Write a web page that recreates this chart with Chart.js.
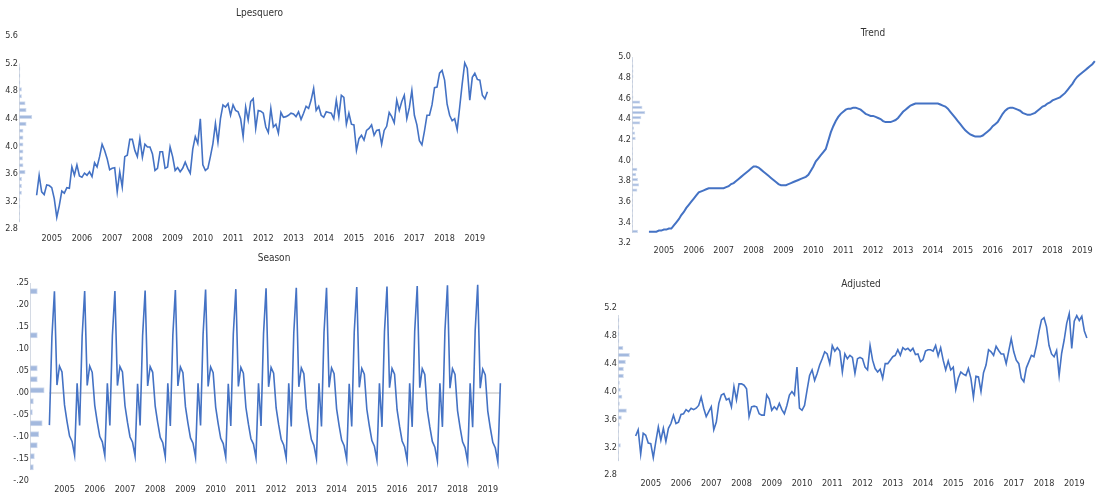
<!DOCTYPE html>
<html>
<head>
<meta charset="utf-8">
<script src="https://cdn.jsdelivr.net/npm/chart.js@4.4.1/dist/chart.umd.min.js"></script>
<style>
    html, body { margin: 0; padding: 0; background: #fff; }
    body { width: 1096px; height: 495px; position: relative; overflow: hidden; }
    .panel { position: absolute; }
</style>
</head>
<body>
<div class="panel" style="left:0px;top:0px;width:520px;height:248px"><canvas id="cLpesquero"></canvas></div>
<div class="panel" style="left:600px;top:20px;width:520px;height:240px"><canvas id="cTrend"></canvas></div>
<div class="panel" style="left:0px;top:250px;width:530px;height:245px"><canvas id="cSeason"></canvas></div>
<div class="panel" style="left:600px;top:265px;width:520px;height:230px"><canvas id="cAdjusted"></canvas></div>
<script>
// Monthly sample 2004M07 - 2019M06
const startYear = 2004;
const startMonth = 7;
const nMonths = 180;
const months = [];
for (let i = 0; i < nMonths; i++) {
    const mm = startMonth - 1 + i;
    months.push((startYear + Math.floor(mm / 12)) + "M" + String(mm % 12 + 1).padStart(2, "0"));
}
const yearLabels = ["2005", "2006", "2007", "2008", "2009", "2010", "2011", "2012",
                    "2013", "2014", "2015", "2016", "2017", "2018", "2019"];

// Series
const lpesquero = [
    3.29, 3.58, 3.34, 3.30, 3.44, 3.43, 3.40, 3.24, 2.97, 3.14,
    3.35, 3.32, 3.40, 3.39, 3.70, 3.58, 3.73, 3.57, 3.55, 3.61,
    3.58, 3.63, 3.56, 3.76, 3.70, 3.85, 4.03, 3.94, 3.82, 3.66,
    3.68, 3.69, 3.34, 3.63, 3.41, 3.85, 3.87, 4.10, 4.10, 3.94,
    3.85, 4.11, 3.84, 4.03, 3.99, 3.99, 3.89, 3.65, 3.68, 3.92,
    3.92, 3.68, 3.70, 3.99, 3.85, 3.65, 3.69, 3.63, 3.68, 3.77,
    3.68, 3.61, 3.96, 4.14, 4.04, 4.40, 3.73, 3.65, 3.68, 3.85,
    4.04, 4.33, 4.06, 4.40, 4.60, 4.57, 4.62, 4.45, 4.60, 4.52,
    4.50, 4.40, 4.14, 4.57, 4.38, 4.65, 4.69, 4.26, 4.52, 4.51,
    4.48, 4.28, 4.20, 4.55, 4.28, 4.32, 4.19, 4.49, 4.42, 4.43,
    4.45, 4.48, 4.47, 4.43, 4.50, 4.39, 4.48, 4.58, 4.55, 4.67,
    4.84, 4.52, 4.58, 4.45, 4.42, 4.50, 4.49, 4.48, 4.40, 4.67,
    4.43, 4.74, 4.71, 4.32, 4.48, 4.32, 4.31, 3.94, 4.11, 4.16,
    4.09, 4.23, 4.26, 4.31, 4.16, 4.23, 4.24, 4.03, 4.23, 4.29,
    4.49, 4.43, 4.34, 4.67, 4.52, 4.65, 4.74, 4.40, 4.56, 4.81,
    4.45, 4.31, 4.08, 4.02, 4.22, 4.45, 4.45, 4.60, 4.85, 4.86,
    5.06, 5.10, 4.96, 4.61, 4.45, 4.37, 4.40, 4.24, 4.57, 4.91,
    5.21, 5.13, 4.67, 5.00, 5.06, 4.97, 4.96, 4.74, 4.69, 4.79
];

const trend = [
    3.31, 3.31, 3.31, 3.31, 3.32, 3.32, 3.33, 3.33, 3.34, 3.34,
    3.37, 3.40, 3.43, 3.47, 3.50, 3.54, 3.57, 3.60, 3.63, 3.66,
    3.69, 3.70, 3.71, 3.72, 3.73, 3.73, 3.73, 3.73, 3.73, 3.73,
    3.73, 3.74, 3.75, 3.77, 3.78, 3.80, 3.82, 3.84, 3.86, 3.88,
    3.90, 3.92, 3.94, 3.94, 3.93, 3.91, 3.89, 3.87, 3.85, 3.83,
    3.81, 3.79, 3.77, 3.76, 3.76, 3.76, 3.77, 3.78, 3.79, 3.80,
    3.81, 3.82, 3.83, 3.84, 3.86, 3.90, 3.94, 3.99, 4.02, 4.05,
    4.08, 4.11, 4.19, 4.27, 4.33, 4.38, 4.42, 4.45, 4.47, 4.49,
    4.50, 4.50, 4.51, 4.51, 4.50, 4.49, 4.47, 4.45, 4.44, 4.43,
    4.43, 4.42, 4.41, 4.40, 4.38, 4.37, 4.37, 4.37, 4.38, 4.39,
    4.41, 4.44, 4.47, 4.49, 4.51, 4.53, 4.54, 4.55, 4.55, 4.55,
    4.55, 4.55, 4.55, 4.55, 4.55, 4.55, 4.55, 4.54, 4.53, 4.52,
    4.50, 4.47, 4.44, 4.41, 4.38, 4.35, 4.32, 4.29, 4.27, 4.25,
    4.24, 4.23, 4.23, 4.23, 4.24, 4.26, 4.28, 4.30, 4.33, 4.35,
    4.37, 4.41, 4.45, 4.48, 4.50, 4.51, 4.51, 4.50, 4.49, 4.48,
    4.46, 4.45, 4.44, 4.44, 4.45, 4.46, 4.48, 4.50, 4.52, 4.53,
    4.55, 4.56, 4.58, 4.59, 4.60, 4.61, 4.63, 4.65, 4.68, 4.71,
    4.74, 4.78, 4.81, 4.83, 4.85, 4.87, 4.89, 4.91, 4.93, 4.96
];

const season = [
    -0.073, 0.127, 0.231, 0.018, 0.061, 0.048, -0.027, -0.065, -0.098, -0.110, -0.141, 0.022,
    -0.074, 0.129, 0.232, 0.017, 0.061, 0.047, -0.028, -0.066, -0.099, -0.111, -0.142, 0.022,
    -0.074, 0.130, 0.232, 0.017, 0.060, 0.048, -0.029, -0.067, -0.100, -0.112, -0.143, 0.021,
    -0.074, 0.131, 0.233, 0.016, 0.060, 0.047, -0.030, -0.068, -0.101, -0.113, -0.145, 0.022,
    -0.075, 0.132, 0.234, 0.016, 0.059, 0.046, -0.031, -0.069, -0.102, -0.114, -0.146, 0.022,
    -0.074, 0.133, 0.235, 0.015, 0.059, 0.046, -0.032, -0.070, -0.103, -0.115, -0.146, 0.021,
    -0.075, 0.134, 0.236, 0.015, 0.058, 0.045, -0.033, -0.071, -0.104, -0.116, -0.147, 0.022,
    -0.075, 0.135, 0.238, 0.014, 0.058, 0.045, -0.034, -0.072, -0.105, -0.118, -0.148, 0.022,
    -0.076, 0.136, 0.239, 0.014, 0.057, 0.044, -0.035, -0.073, -0.106, -0.119, -0.149, 0.022,
    -0.076, 0.137, 0.239, 0.013, 0.057, 0.044, -0.036, -0.074, -0.107, -0.120, -0.151, 0.021,
    -0.076, 0.138, 0.241, 0.013, 0.056, 0.043, -0.037, -0.075, -0.108, -0.121, -0.152, 0.022,
    -0.077, 0.139, 0.242, 0.012, 0.056, 0.043, -0.038, -0.076, -0.109, -0.122, -0.153, 0.022,
    -0.077, 0.140, 0.243, 0.012, 0.055, 0.042, -0.039, -0.077, -0.110, -0.123, -0.154, 0.022,
    -0.077, 0.141, 0.245, 0.011, 0.055, 0.042, -0.040, -0.078, -0.111, -0.124, -0.155, 0.022,
    -0.078, 0.142, 0.246, 0.011, 0.054, 0.041, -0.041, -0.079, -0.112, -0.125, -0.157, 0.022
];

const adjusted = [
    3.36, 3.45, 3.10, 3.40, 3.37, 3.26, 3.25, 3.05, 3.28, 3.49,
    3.30, 3.47, 3.28, 3.47, 3.54, 3.66, 3.54, 3.56, 3.67, 3.68,
    3.74, 3.71, 3.76, 3.74, 3.76, 3.80, 3.92, 3.76, 3.64, 3.71,
    3.78, 3.45, 3.56, 3.83, 3.95, 3.97, 3.88, 3.90, 3.78, 4.07,
    3.88, 4.11, 4.11, 4.09, 4.04, 3.64, 3.78, 3.79, 3.78, 3.68,
    3.66, 3.66, 3.95, 3.89, 3.73, 3.78, 3.74, 3.83, 3.74, 3.68,
    3.80, 3.95, 4.00, 3.95, 4.35, 3.76, 3.73, 3.80, 4.02, 4.23,
    4.31, 4.16, 4.26, 4.38, 4.47, 4.57, 4.54, 4.40, 4.66, 4.58,
    4.63, 4.58, 4.28, 4.54, 4.47, 4.52, 4.49, 4.26, 4.47, 4.49,
    4.47, 4.35, 4.31, 4.66, 4.45, 4.33, 4.28, 4.32, 4.19, 4.40,
    4.40, 4.45, 4.50, 4.52, 4.60, 4.52, 4.63, 4.60, 4.62, 4.58,
    4.62, 4.53, 4.54, 4.43, 4.46, 4.58, 4.60, 4.60, 4.58, 4.66,
    4.51, 4.63, 4.45, 4.31, 4.44, 4.31, 4.35, 4.03, 4.19, 4.28,
    4.25, 4.23, 4.33, 4.19, 3.92, 4.22, 4.21, 4.00, 4.27, 4.38,
    4.60, 4.57, 4.52, 4.65, 4.59, 4.54, 4.54, 4.40, 4.58, 4.76,
    4.57, 4.45, 4.40, 4.19, 4.14, 4.34, 4.43, 4.52, 4.50, 4.66,
    4.86, 5.03, 5.06, 4.93, 4.66, 4.54, 4.50, 4.59, 4.23, 4.55,
    4.74, 4.98, 5.12, 4.62, 5.01, 5.09, 5.02, 5.08, 4.87, 4.77
];

// Histograms on the left axis (bin centres, counts)
const lpesqueroBins = [2.95, 3.05, 3.15, 3.25, 3.35, 3.45, 3.55, 3.65, 3.75, 3.85, 3.95, 4.05,
                       4.15, 4.25, 4.35, 4.45, 4.55, 4.65, 4.75, 4.85, 4.95, 5.05, 5.15];
const lpesqueroCounts = [1, 1, 2, 2, 5, 5, 5, 12, 8, 7, 8, 8, 8, 8, 14, 25, 14, 12, 5, 5, 2, 2, 2];

const trendBins = [3.325, 3.375, 3.425, 3.475, 3.525, 3.575, 3.625, 3.675, 3.725, 3.775, 3.825, 3.875,
                   3.925, 3.975, 4.025, 4.075, 4.125, 4.175, 4.225, 4.275, 4.325, 4.375, 4.425, 4.475,
                   4.525, 4.575, 4.625, 4.675, 4.725, 4.775, 4.825, 4.875, 4.925, 4.975];
const trendCounts = [10, 1, 1, 1, 1, 1, 1, 1, 9, 12, 10, 7, 9, 1, 1, 1, 1, 0, 6, 5, 3, 14, 16, 23,
                     18, 14, 2, 1, 1, 1, 2, 2, 2, 1];

const seasonBins = [-0.1625, -0.1375, -0.1125, -0.0875, -0.0625, -0.0375, -0.0125, 0.0125, 0.0375,
                    0.0625, 0.0875, 0.1125, 0.1375, 0.1625, 0.1875, 0.2125, 0.2375];
const seasonCounts = [7, 9, 15, 18, 25, 5, 7, 29, 15, 15, 0, 0, 15, 0, 0, 0, 15];

const adjustedBins = [3.05, 3.15, 3.25, 3.35, 3.45, 3.55, 3.65, 3.75, 3.85, 3.95, 4.05,
                      4.15, 4.25, 4.35, 4.45, 4.55, 4.65, 4.75, 4.85, 4.95, 5.05];
const adjustedCounts = [1, 1, 5, 1, 1, 3, 7, 17, 3, 8, 5, 3, 11, 11, 15, 23, 10, 2, 2, 2, 2];

const fontFamily = "'Liberation Sans Narrow', 'DejaVu Sans Condensed', 'Liberation Sans', Arial, sans-serif";
const textColor = "#333333";
const lineColor = "#4472c4";
const yearTicks = yearLabels.map(y => months.indexOf(y + "M01"));

function oneDecimal(v) {
    return v.toFixed(1);
}

function noLeadingZero(v) {
    if (Math.abs(v) < 1e-9) v = 0;
    return v.toFixed(2).replace(/^(-?)0\./, "$1.");
}

function createPanel(id, title, values, bins, counts, o) {
    const binWidth = bins[1] - bins[0];
    const lo = bins[0] - binWidth / 2;
    const hi = bins[bins.length - 1] + binWidth / 2;

    const datasets = [
        {
            type: "line",
            data: values.map((v, i) => ({ x: i, y: v })),
            xAxisID: "x",
            yAxisID: "y",
            borderColor: lineColor,
            borderWidth: o.lineWidth,
            pointRadius: 0,
            tension: 0,
            fill: false,
            order: 0
        },
        {
            type: "bar",
            indexAxis: "y",
            data: bins.map((b, i) => ({ x: counts[i], y: b })),
            xAxisID: "xh",
            yAxisID: "y",
            backgroundColor: "#a3b9de",
            borderColor: "#d0dbee",
            borderWidth: 1,
            borderSkipped: "start",
            barPercentage: 1,
            categoryPercentage: 1,
            order: 3
        },
        {
            type: "line",
            data: [{ x: 0, y: lo }, { x: 0, y: hi }],
            xAxisID: "xh",
            yAxisID: "y",
            borderColor: "#c6cedb",
            borderWidth: 1.5,
            pointRadius: 0,
            order: 2
        }
    ];

    if (o.zeroLine) {
        datasets.push({
            type: "line",
            data: [{ x: 0, y: 0 }, { x: values.length - 1, y: 0 }],
            xAxisID: "x",
            yAxisID: "y",
            borderColor: "#b8b8b8",
            borderWidth: 1,
            pointRadius: 0,
            order: 1
        });
    }

    new Chart(document.getElementById(id), {
        type: "line",
        data: { datasets: datasets },
        options: {
            responsive: true,
            maintainAspectRatio: false,
            animation: false,
            events: [],
            layout: { padding: o.padding },
            plugins: {
                legend: { display: false },
                tooltip: { enabled: false },
                title: {
                    display: true,
                    text: title,
                    fullSize: false,
                    color: textColor,
                    font: { family: fontFamily, size: 10, weight: "normal", lineHeight: 1.2 },
                    padding: o.titlePad
                }
            },
            scales: {
                x: {
                    type: "linear",
                    min: o.xMin,
                    max: o.xMax,
                    offset: false,
                    grid: { display: false, drawTicks: false, offset: false },
                    border: { display: false },
                    afterBuildTicks: (s) => { s.ticks = yearTicks.map(v => ({ value: v })); },
                    afterFit: (s) => { s.height = o.xAxisHeight; },
                    ticks: {
                        autoSkip: false,
                        maxRotation: 0,
                        padding: o.xTickPad,
                        color: textColor,
                        font: { family: fontFamily, size: 9 },
                        callback: (v) => yearLabels[yearTicks.indexOf(v)]
                    }
                },
                xh: {
                    type: "linear",
                    axis: "x",
                    display: false,
                    offset: false,
                    min: 0,
                    max: o.histMax
                },
                y: {
                    type: "linear",
                    min: o.yMin,
                    max: o.yMax,
                    offset: false,
                    grid: { display: false, drawTicks: false, offset: false },
                    border: { display: false },
                    afterFit: (s) => { s.width = o.yAxisWidth; },
                    ticks: {
                        stepSize: o.yStep,
                        padding: 1,
                        color: textColor,
                        font: { family: fontFamily, size: 9 },
                        callback: o.yFormat
                    }
                }
            }
        }
    });
}

createPanel("cLpesquero", "Lpesquero", lpesquero, lpesqueroBins, lpesqueroCounts, {
    yMin: 2.8, yMax: 5.6, yStep: 0.4, yFormat: oneDecimal,
    xMin: -7, xMax: 184, histMax: 934,
    yAxisWidth: 19, xAxisHeight: 15, xTickPad: 4,
    padding: { left: 0, right: 20, top: 0, bottom: 4 },
    titlePad: { top: 7, bottom: 17 },
    lineWidth: 1.6
});

createPanel("cTrend", "Trend", trend, trendBins, trendCounts, {
    yMin: 3.2, yMax: 5.0, yStep: 0.2, yFormat: oneDecimal,
    xMin: -6.8, xMax: 186.7, histMax: 856,
    yAxisWidth: 32, xAxisHeight: 15, xTickPad: 2,
    padding: { left: 0, right: 6, top: 0, bottom: 2 },
    titlePad: { top: 7, bottom: 18 },
    lineWidth: 2
});

createPanel("cSeason", "Season", season, seasonBins, seasonCounts, {
    yMin: -0.2, yMax: 0.25, yStep: 0.05, yFormat: noLeadingZero,
    xMin: -7.7, xMax: 186, histMax: 996,
    yAxisWidth: 30, xAxisHeight: 13, xTickPad: 3,
    padding: { left: 0, right: 12, top: 0, bottom: 1 },
    titlePad: { top: 2, bottom: 19 },
    lineWidth: 1.6,
    zeroLine: true
});

createPanel("cAdjusted", "Adjusted", adjusted, adjustedBins, adjustedCounts, {
    yMin: 2.8, yMax: 5.2, yStep: 0.4, yFormat: oneDecimal,
    xMin: -7, xMax: 185.8, histMax: 972,
    yAxisWidth: 18, xAxisHeight: 14, xTickPad: 3,
    padding: { left: 0, right: 16, top: 0, bottom: 6 },
    titlePad: { top: 13, bottom: 18 },
    lineWidth: 1.6
});
</script>
</body>
</html>
